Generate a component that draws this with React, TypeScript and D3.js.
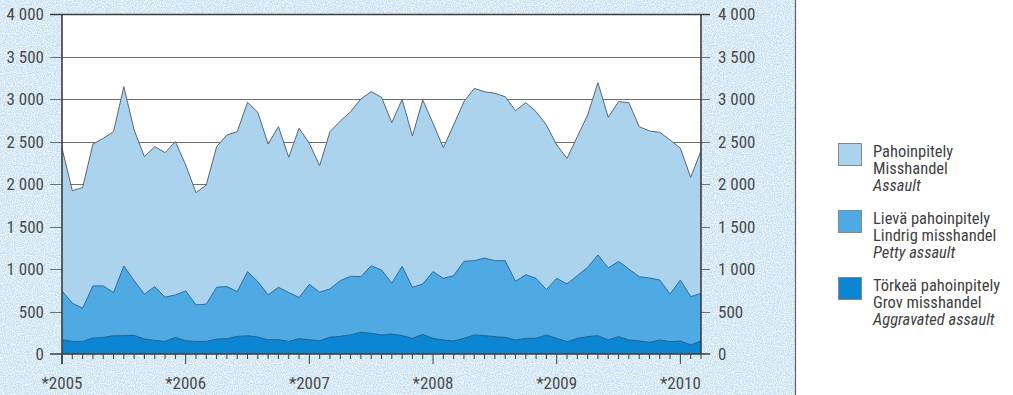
import { useEffect, useRef } from 'react'
import * as d3 from 'd3'

// monthly counts, Jan 2005 .. Mar 2010
const aggravated = [
  168, 148, 148, 187, 195, 215, 215, 219, 176, 160, 148, 195,
  156, 148, 148, 176, 180, 207, 215, 199, 168, 168, 148, 180,
  168, 156, 199, 207, 225, 255, 243, 224, 235, 216, 184, 231,
  184, 165, 153, 184, 224, 216, 204, 196, 165, 184, 184, 224,
  184, 145, 184, 204, 216, 165, 204, 165, 153, 137, 165, 145,
  153, 106, 153,
]

const petty = [
  574, 450, 391, 614, 606, 508, 820, 644, 527, 633, 520, 500,
  586, 430, 438, 609, 613, 527, 754, 653, 527, 617, 575, 484,
  652, 571, 567, 656, 690, 655, 796, 764, 600, 815, 600, 593,
  785, 725, 769, 906, 874, 913, 894, 902, 690, 749, 706, 533,
  706, 679, 738, 816, 949, 847, 886, 835, 757, 757, 706, 561,
  718, 569, 561,
]

const assault = [
  1678, 1324, 1418, 1669, 1736, 1893, 2110, 1772, 1619, 1647, 1701, 1803,
  1482, 1320, 1402, 1654, 1783, 1882, 1992, 1991, 1775, 1890, 1591, 1991,
  1658, 1489, 1850, 1877, 1936, 2090, 2047, 2032, 1887, 1965, 1781, 2164,
  1745, 1537, 1772, 1879, 2027, 1957, 1969, 1929, 2008, 2024, 1961, 1937,
  1569, 1478, 1635, 1792, 2027, 1772, 1879, 1957, 1765, 1730, 1737, 1812,
  1549, 1403, 1678,
]

const yearLabels = ['*2005', '*2006', '*2007', '*2008', '*2009', '*2010']
const yTicks = [0, 500, 1000, 1500, 2000, 2500, 3000, 3500, 4000]

const legendItems = [
  { key: 'assault', lines: ['Pahoinpitely', 'Misshandel', 'Assault'] },
  { key: 'petty', lines: ['Lievä pahoinpitely', 'Lindrig misshandel', 'Petty assault'] },
  { key: 'aggravated', lines: ['Törkeä pahoinpitely', 'Grov misshandel', 'Aggravated assault'] },
]

const WIDTH = 1013
const HEIGHT = 395
const FONT = '"Liberation Sans Narrow", "Arial Narrow", "Roboto Condensed", "Liberation Sans", sans-serif'

const FILLS: Record<string, string> = {
  aggravated: '#0c85d2',
  petty: '#4fa9e3',
  assault: '#acd3ee',
}
const EDGES: Record<string, string> = {
  aggravated: '#1f5f8e',
  petty: '#2f6a94',
  assault: '#5a6670',
}

interface Row {
  index: number
  aggravated: number
  petty: number
  assault: number
}

export default function App() {
  const svgRef = useRef<SVGSVGElement | null>(null)

  useEffect(() => {
    if (!svgRef.current) {
      return
    }
    const svg = d3.select(svgRef.current)
    svg.selectAll('*').remove()

    const left = 62
    const right = 701
    const top = 14
    const bottom = 354

    const rows: Row[] = aggravated.map((value, index) => ({
      index,
      aggravated: value,
      petty: petty[index],
      assault: assault[index],
    }))

    const x = d3.scaleLinear().domain([0, rows.length - 1]).range([left, right])
    const y = d3.scaleLinear().domain([0, 4000]).range([bottom, top])

    // speckled blue backdrop
    const defs = svg.append('defs')
    const filter = defs.append('filter').attr('id', 'speckle').attr('x', 0).attr('y', 0).attr('width', 1).attr('height', 1)
    filter
      .append('feTurbulence')
      .attr('type', 'fractalNoise')
      .attr('baseFrequency', 0.9)
      .attr('numOctaves', 2)
      .attr('seed', 3)
      .attr('result', 'noise')
    filter
      .append('feColorMatrix')
      .attr('in', 'noise')
      .attr('type', 'matrix')
      .attr('values', '0 0 0 0 1  0 0 0 0 1  0 0 0 0 1  0 0 0 -2.2 1.45')
      .attr('result', 'dots')
    filter.append('feComposite').attr('in', 'dots').attr('in2', 'SourceGraphic').attr('operator', 'in')

    svg.append('rect').attr('width', WIDTH).attr('height', HEIGHT).attr('fill', '#ffffff')
    svg.append('rect').attr('width', 795).attr('height', HEIGHT).attr('fill', '#c4dfef')
    svg
      .append('rect')
      .attr('width', 795)
      .attr('height', HEIGHT)
      .attr('fill', '#c4dfef')
      .attr('filter', 'url(#speckle)')
    svg
      .append('line')
      .attr('x1', 795.5)
      .attr('x2', 795.5)
      .attr('y1', 0)
      .attr('y2', HEIGHT)
      .attr('stroke', '#5b6266')
      .attr('stroke-width', 1.2)

    // plot area
    svg
      .append('rect')
      .attr('x', left)
      .attr('y', top)
      .attr('width', right - left)
      .attr('height', bottom - top)
      .attr('fill', '#ffffff')

    svg
      .append('g')
      .selectAll('line.grid')
      .data(yTicks.filter((t) => t > 0))
      .enter()
      .append('line')
      .attr('class', 'grid')
      .attr('x1', left - 12)
      .attr('x2', right + 9)
      .attr('y1', (t: number) => Math.round(y(t)) + 0.5)
      .attr('y2', (t: number) => Math.round(y(t)) + 0.5)
      .attr('stroke', (t: number) => (t === 4000 ? '#3d3d3d' : '#6f6f6f'))
      .attr('stroke-width', (t: number) => (t === 4000 ? 1.6 : 1))

    const stack = d3.stack<Row>().keys(['aggravated', 'petty', 'assault'])
    const layers = stack(rows)

    const area = d3
      .area<d3.SeriesPoint<Row>>()
      .x((d) => x(d.data.index))
      .y0((d) => y(d[0]))
      .y1((d) => y(d[1]))

    const topLine = d3
      .line<d3.SeriesPoint<Row>>()
      .x((d) => x(d.data.index))
      .y((d) => y(d[1]))

    // draw from the top layer down so the edges sit on top
    const layerGroup = svg.append('g')
    layers
      .slice()
      .reverse()
      .forEach((layer) => {
        layerGroup
          .append('path')
          .attr('d', area(layer) ?? '')
          .attr('fill', FILLS[layer.key])
      })
    layers.forEach((layer) => {
      layerGroup
        .append('path')
        .attr('d', topLine(layer) ?? '')
        .attr('fill', 'none')
        .attr('stroke', EDGES[layer.key])
        .attr('stroke-width', 1)
        .attr('stroke-linejoin', 'round')
    })

    // axes lines
    const axisColor = '#3d3d3d'
    svg
      .append('line')
      .attr('x1', left)
      .attr('x2', left)
      .attr('y1', top)
      .attr('y2', bottom + 10)
      .attr('stroke', axisColor)
      .attr('stroke-width', 1.6)
    svg
      .append('line')
      .attr('x1', right)
      .attr('x2', right)
      .attr('y1', top)
      .attr('y2', bottom)
      .attr('stroke', axisColor)
      .attr('stroke-width', 1.6)
    svg
      .append('line')
      .attr('x1', left - 12)
      .attr('x2', right + 9)
      .attr('y1', bottom)
      .attr('y2', bottom)
      .attr('stroke', axisColor)
      .attr('stroke-width', 1.6)

    // month ticks
    svg
      .append('g')
      .selectAll('line.month')
      .data(rows)
      .enter()
      .append('line')
      .attr('class', 'month')
      .attr('x1', (d: Row) => x(d.index))
      .attr('x2', (d: Row) => x(d.index))
      .attr('y1', bottom)
      .attr('y2', (d: Row) => (d.index % 12 === 0 ? bottom + 10 : bottom + 5))
      .attr('stroke', axisColor)
      .attr('stroke-width', 1)

    // y labels both sides
    svg
      .append('g')
      .selectAll('text.ylabel-left')
      .data(yTicks)
      .enter()
      .append('text')
      .attr('class', 'ylabel-left')
      .attr('x', 44)
      .attr('y', (t: number) => y(t) + 6)
      .attr('text-anchor', 'end')
      .attr('font-family', FONT)
      .attr('font-size', 17)
      .attr('fill', '#4a4a4a')
      .text((t: number) => d3.format(',')(t).replace(',', ' '))

    svg
      .append('g')
      .selectAll('text.ylabel-right')
      .data(yTicks)
      .enter()
      .append('text')
      .attr('class', 'ylabel-right')
      .attr('x', 718)
      .attr('y', (t: number) => y(t) + 6)
      .attr('text-anchor', 'start')
      .attr('font-family', FONT)
      .attr('font-size', 17)
      .attr('fill', '#4a4a4a')
      .text((t: number) => d3.format(',')(t).replace(',', ' '))

    svg
      .append('g')
      .selectAll('text.xlabel')
      .data(yearLabels)
      .enter()
      .append('text')
      .attr('class', 'xlabel')
      .attr('x', (_: string, i: number) => x(i * 12))
      .attr('y', 389)
      .attr('text-anchor', 'middle')
      .attr('font-family', FONT)
      .attr('font-size', 17)
      .attr('fill', '#4a4a4a')
      .text((label: string) => label)

    // legend
    const legend = svg
      .append('g')
      .selectAll('g.legend-item')
      .data(legendItems)
      .enter()
      .append('g')
      .attr('class', 'legend-item')
      .attr('transform', (_: unknown, i: number) => `translate(838, ${143 + i * 67})`)

    legend
      .append('rect')
      .attr('x', 0.5)
      .attr('y', 0.5)
      .attr('width', 23)
      .attr('height', 22)
      .attr('fill', (d: { key: string }) => FILLS[d.key])
      .attr('stroke', '#7b8a94')
      .attr('stroke-width', 1)

    legend.each(function (d: { key: string; lines: string[] }) {
      const g = d3.select(this)
      d.lines.forEach((line, li) => {
        g.append('text')
          .attr('x', 35)
          .attr('y', 14 + li * 17)
          .attr('font-family', FONT)
          .attr('font-size', 16.5)
          .attr('font-style', li === 2 ? 'italic' : 'normal')
          .attr('fill', '#3f3f3f')
          .text(line)
      })
    })
  }, [])

  return (
    <div style={{ position: 'absolute', left: 0, top: 0 }}>
      <svg ref={svgRef} width={WIDTH} height={HEIGHT} style={{ display: 'block' }} />
    </div>
  )
}
